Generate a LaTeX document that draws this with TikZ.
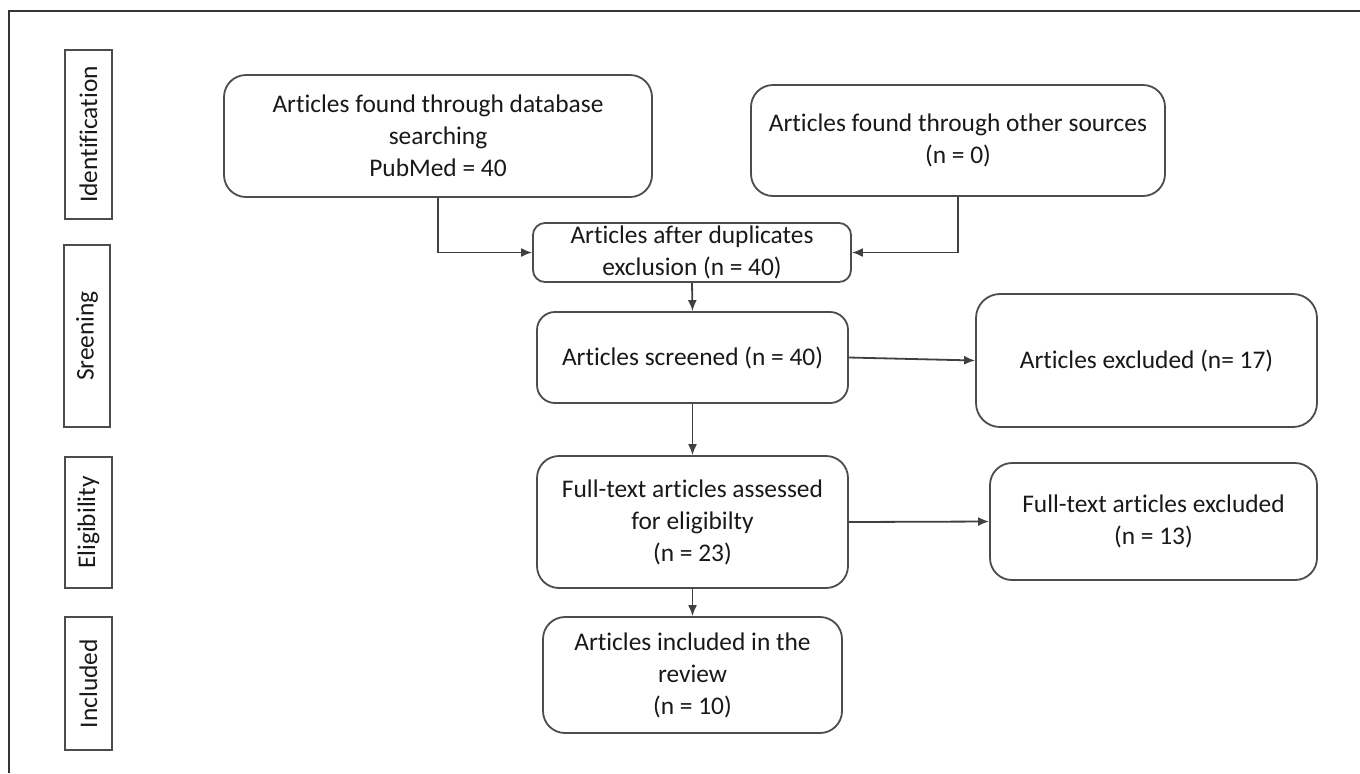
\documentclass[tikz,border=0pt]{standalone}
\usepackage{fontspec}
\setmainfont{Carlito}[Ligatures=NoCommon]
\usetikzlibrary{arrows.meta}
\begin{document}
\begin{tikzpicture}[x=0.5pt,y=-0.5pt,
  every node/.style={font=\fontsize{12.7}{16}\selectfont, text=black!90},
  box/.style={draw=black!70, line width=0.9pt, align=center, inner sep=1pt},
  side/.style={draw=black!70, line width=0.9pt, rotate=90, inner sep=0pt},
  conn/.style={draw=black!75, line width=0.9pt, -{Latex[length=5.5pt,width=4.5pt]}}]
\useasboundingbox (0,0) rectangle (1360,773);
\fill[white] (0,0) rectangle (1360,773);
\draw[black!80, line width=0.9pt] (1360,11) -- (9,11) -- (9,773);

% side labels
\node[side, minimum width=84.5pt, minimum height=23.5pt] (sid) at (88.5,134.5) {Identification};
\node[side, minimum width=91pt, minimum height=23pt] (sscr) at (87,336) {Sreening};
\node[side, minimum width=65.5pt, minimum height=23.5pt] (selg) at (88.5,522.5) {Eligibility};
\node[side, minimum width=66.5pt, minimum height=23.5pt] (sinc) at (88.5,683.5) {Included};

% main boxes
\node[box, rounded corners=11pt, minimum width=214pt, minimum height=61pt] (A) at (438,136)
  {Articles found through database\\searching\\PubMed = 40};
\node[box, rounded corners=11pt, minimum width=207pt, minimum height=55.5pt] (B) at (958,140.5)
  {Articles found through other sources\\(n = 0)};
\node[box, rounded corners=6pt, minimum width=159pt, minimum height=29.5pt, inner sep=0pt] (C) at (692,252.5)
  {Articles after duplicates\\exclusion (n = 40)};
\node[box, rounded corners=9pt, minimum width=155.5pt, minimum height=45.5pt] (D) at (692.5,357.5)
  {Articles screened (n = 40)};
\node[box, rounded corners=12pt, minimum width=170.5pt, minimum height=66.5pt] (E) at (1146.5,360.5)
  {Articles excluded (n= 17)};
\node[box, rounded corners=11pt, minimum width=155.5pt, minimum height=66pt] (F) at (692.5,522)
  {Full-text articles assessed\\for eligibilty\\(n = 23)};
\node[box, rounded corners=11pt, minimum width=163.5pt, minimum height=58.5pt] (G) at (1153.5,521.5)
  {Full-text articles excluded\\(n = 13)};
\node[box, rounded corners=11pt, minimum width=149.5pt, minimum height=58pt] (H) at (692.5,675)
  {Articles included in the\\review\\(n = 10)};

% connectors
\draw[conn] (A.south) |- (C.west);
\draw[conn] (B.south) |- (C.east);
\draw[conn] (C.south) -- (D.north);
\draw[conn] (D.east) -- (E.west);
\draw[conn] (D.south) -- (F.north);
\draw[conn] (F.east) -- (G.west);
\draw[conn] (F.south) -- (H.north);
\end{tikzpicture}
\end{document}
